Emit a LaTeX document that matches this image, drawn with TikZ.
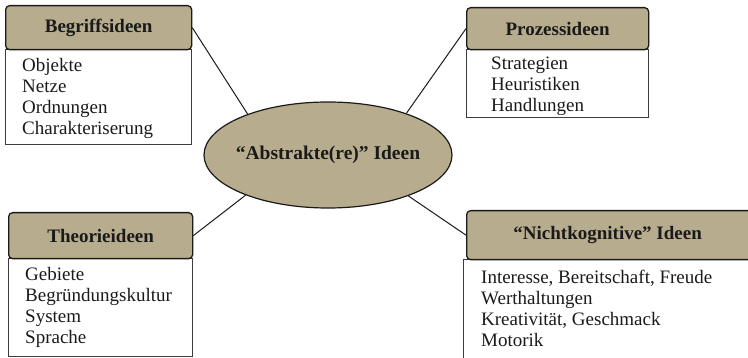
\documentclass[tikz,border=0pt]{standalone}
\usepackage{fontspec}
\setmainfont{Liberation Serif}
\usetikzlibrary{shapes.geometric}
\definecolor{tan}{HTML}{B7AC8D}
\definecolor{ink}{HTML}{1A1A1A}
\tikzset{
  hdr/.style={draw=ink, fill=tan, rounded corners=4pt, line width=1.3pt, inner sep=0pt,
    anchor=north west, font=\bfseries\fontsize{19}{21}\selectfont, text=ink},
  bodybox/.style={draw=ink!85, line width=1pt, inner sep=0pt, anchor=north west},
  items/.style={inner sep=0pt, anchor=north west, align=left, text=ink,
    font=\fontsize{19}{21}\selectfont},
  conn/.style={draw=ink, line width=1pt},
}
\begin{document}
\begin{tikzpicture}[x=1pt,y=-1pt]
\useasboundingbox (0,0) rectangle (748,358);
\clip (0,0) rectangle (748,358);

% central ellipse
\node[ellipse, draw=ink, fill=tan, line width=1.2pt, minimum width=248pt, minimum height=106pt,
  inner sep=0pt] (ell) at (328,155) {};
\node[inner sep=0pt, text=ink, font=\bfseries\fontsize{19.5}{21}\selectfont] (ellt) at (ell.center)
  {“Abstrakte(re)” Ideen};

% Begriffsideen
\node[bodybox, minimum width=186pt, minimum height=95pt] (bb) at (5,49) {};
\node[hdr, minimum width=186pt, minimum height=44pt] (bh) at (5,5) {Begriffsideen};
\node[items] (bt) at (22,56.3) {\strut Objekte\\Netze\\Ordnungen\\Charakteriserung};

% Prozessideen
\node[bodybox, minimum width=182pt, minimum height=68pt] (pb) at (466,49) {};
\node[hdr, minimum width=182pt, minimum height=42pt] (ph) at (466,7) {Prozessideen};
\node[items] (pt) at (491,54.3) {\strut Strategien\\Heuristiken\\Handlungen};

% Theorieideen
\node[bodybox, minimum width=184pt, minimum height=98pt] (tb) at (8,258) {};
\node[hdr, minimum width=184pt, minimum height=46pt] (th) at (8,212) {Theorieideen};
\node[items] (tt) at (25,265.3) {\strut Gebiete\\Begründungskultur\\System\\Sprache};

% Nichtkognitive Ideen
\node[bodybox, minimum width=295pt, minimum height=115pt] (nb) at (463,259) {};
\node[hdr, minimum width=290pt, minimum height=49pt] (nh) at (466,210) {“Nichtkognitive” Ideen\hspace*{8pt}};
\node[items] (nt) at (481,268.3) {\strut Interesse, Bereitschaft, Freude\\Werthaltungen\\Kreativität, Geschmack\\Motorik};

% connectors
\draw[conn] (bh.east) -- (ell.153);
\draw[conn] (ph.west) -- (ell.28);
\draw[conn] (th.east) -- (ell.206);
\draw[conn] (nh.west) -- (ell.333);
\end{tikzpicture}
\end{document}
